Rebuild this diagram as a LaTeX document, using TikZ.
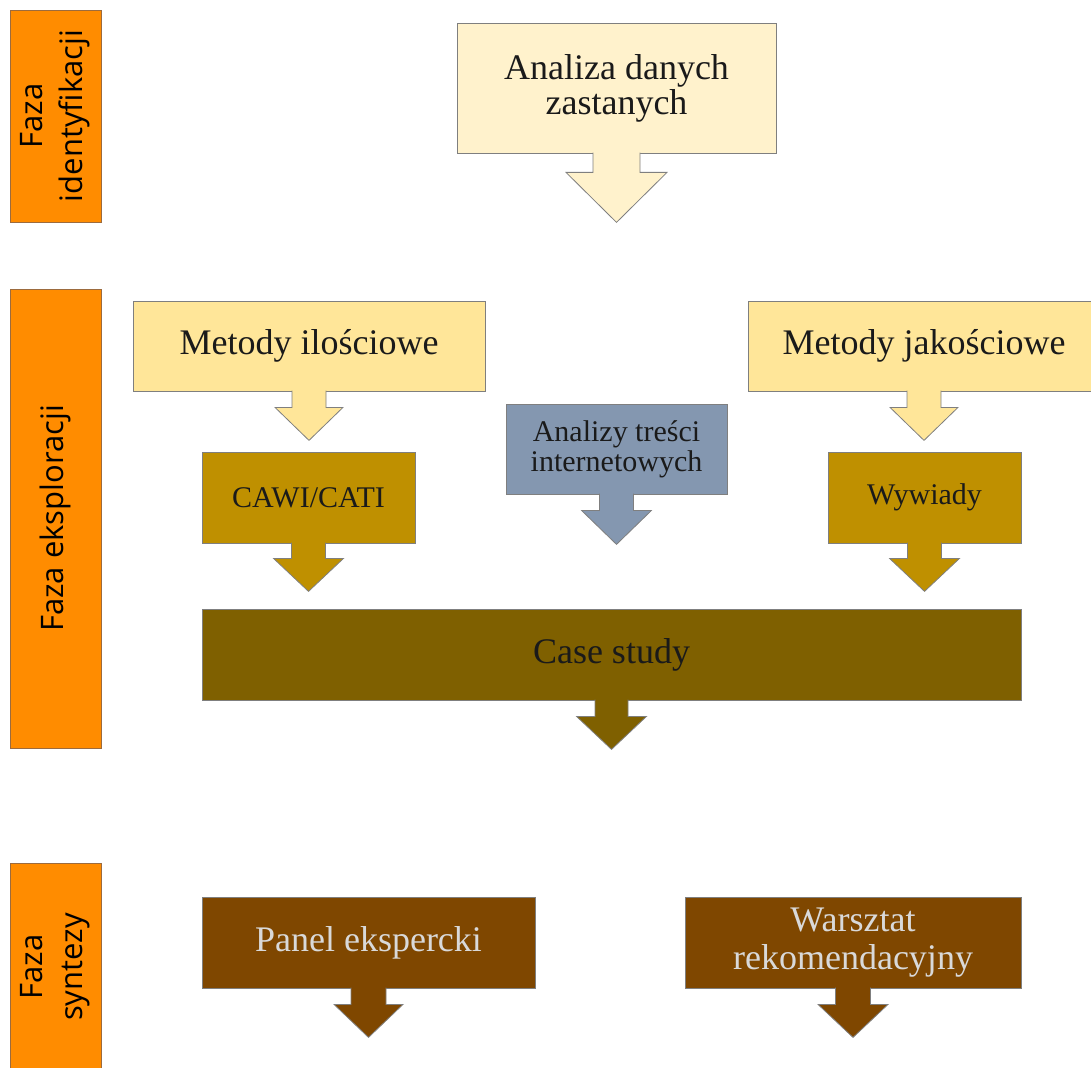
\documentclass[tikz,border=0pt]{standalone}
\usepackage{fontspec}
\setmainfont{Liberation Serif}
\newfontfamily\phasefont{Open Sans}
\usetikzlibrary{calc}
\definecolor{phaseor}{HTML}{FF8C00}
\definecolor{phaseedge}{HTML}{9C6B3E}
\definecolor{creamA}{HTML}{FFF2CC}
\definecolor{creamB}{HTML}{FFE699}
\definecolor{goldbox}{HTML}{BF9000}
\definecolor{bluebox}{HTML}{8497B0}
\definecolor{olivebox}{HTML}{7F6000}
\definecolor{brownbox}{HTML}{7F4700}
\definecolor{edgegray}{HTML}{7F7F7F}
\definecolor{lighttext}{HTML}{D9D9D9}
\definecolor{darktext}{HTML}{1A1A1A}
\tikzset{
  phase/.style={draw=phaseedge, fill=phaseor, line width=0.8pt, rotate=90, align=center,
    inner sep=0pt, font=\phasefont\fontsize{31pt}{40pt}\selectfont, text=black},
  stepbox/.style={draw=edgegray, line width=0.8pt, align=center, inner sep=0pt, text=darktext},
  bigtext/.style={font=\fontsize{36pt}{35pt}\selectfont},
  smalltext/.style={font=\fontsize{30pt}{30pt}\selectfont}
}
% #1 node, #2 fill, #3 stem half width, #4 stem length, #5 head half width, #6 tip distance
\newcommand\downarr[6]{%
  \filldraw[fill=#2, draw=edgegray, line width=0.8pt, line join=miter]
    ($(#1.south)+(-#3,-0.8)$) -- ($(#1.south)+(-#3,#4)$) -- ($(#1.south)+(-#5,#4)$)
    -- ($(#1.south)+(0,#6)$) -- ($(#1.south)+(#5,#4)$) -- ($(#1.south)+(#3,#4)$)
    -- ($(#1.south)+(#3,-0.8)$);
}
\begin{document}
\begin{tikzpicture}[x=1pt,y=-1pt]
\useasboundingbox (0,0) rectangle (1091,1067);
\clip (0,0) rectangle (1091,1067);

% phase labels
\node[phase, minimum width=212pt, minimum height=91pt] (p1) at (55.5,116) {Faza\\identyfikacji};
\node[phase, minimum width=459pt, minimum height=91pt] (p2) at (55.5,518.5) {Faza eksploracji};
\node[phase, minimum width=208pt, minimum height=91pt] (p3) at (55.5,967) {Faza\\syntezy};

% identification
\node[stepbox, bigtext, fill=creamA, minimum width=319pt, minimum height=130pt] (ana) at (616.5,88) {Analiza danych\\zastanych};
\downarr{ana}{creamA}{23.5}{19}{50.5}{69}

% exploration
\node[stepbox, bigtext, fill=creamB, minimum width=352pt, minimum height=90pt] (mil) at (309,346) {Metody ilościowe};
\downarr{mil}{creamB}{17}{16}{34}{49}
\node[stepbox, bigtext, fill=creamB, minimum width=352pt, minimum height=90pt] (mja) at (924,346) {Metody jakościowe};
\downarr{mja}{creamB}{17}{16}{34}{49}

\node[stepbox, smalltext, fill=goldbox, minimum width=213pt, minimum height=91pt] (cawi) at (308.5,497.5) {CAWI/CATI};
\downarr{cawi}{goldbox}{17}{15}{35}{48}
\node[stepbox, smalltext, fill=bluebox, minimum width=221pt, minimum height=90pt] (atr) at (616.5,449) {Analizy treści\\internetowych};
\downarr{atr}{bluebox}{17}{16}{35}{50}
\node[stepbox, smalltext, fill=goldbox, minimum width=193pt, minimum height=91pt] (wyw) at (924.5,497.5) {\raisebox{-3pt}{Wywiady}};
\downarr{wyw}{goldbox}{17}{15}{35}{48}

\node[stepbox, bigtext, fill=olivebox, minimum width=819pt, minimum height=91pt] (case) at (611.5,654.5) {Case study};
\downarr{case}{olivebox}{16.5}{16}{35}{49}

% synthesis
\node[stepbox, bigtext, fill=brownbox, text=lighttext, minimum width=333pt, minimum height=91pt] (pan) at (368.5,942.5) {Panel ekspercki};
\downarr{pan}{brownbox}{17.5}{16}{34.5}{49}
\node[stepbox, font=\fontsize{36pt}{38pt}\selectfont, fill=brownbox, text=lighttext, minimum width=336pt, minimum height=91pt] (war) at (853,942.5) {Warsztat\\rekomendacyjny};
\downarr{war}{brownbox}{17.5}{16}{35}{49}
\end{tikzpicture}
\end{document}
